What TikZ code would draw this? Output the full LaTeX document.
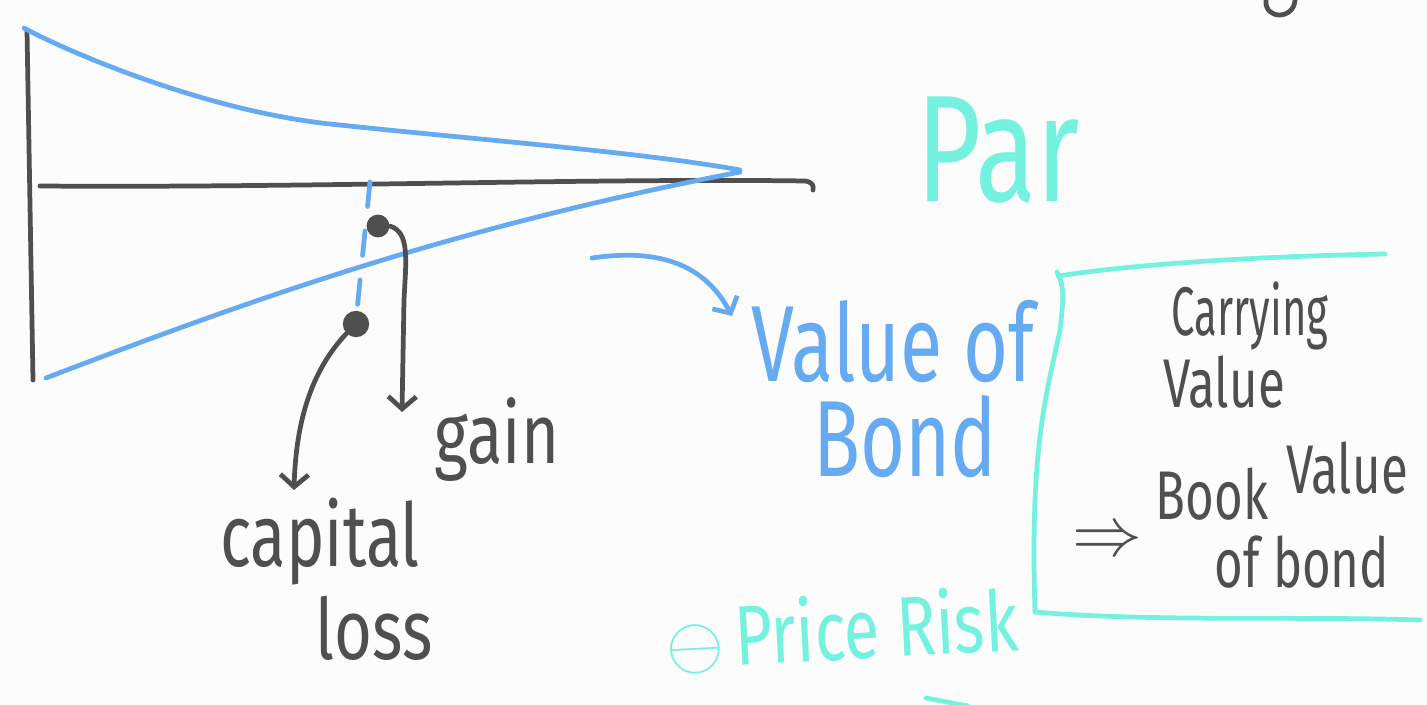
\documentclass[tikz,border=0pt]{standalone}
\usepackage{fontspec}
\setmainfont{Fira Sans}
\usetikzlibrary{arrows.meta}

\definecolor{inkgray}{HTML}{4F4F4F}
\definecolor{inkblue}{HTML}{66AAF2}
\definecolor{inkteal}{HTML}{74F2DF}
\definecolor{paper}{HTML}{FCFCFC}

\begin{document}
\begin{tikzpicture}[
    x=0.02cm, y=-0.02cm,
    ink/.style={line width=2.7pt, line cap=round, line join=round},
    grayink/.style={ink, draw=inkgray},
    blueink/.style={ink, draw=inkblue},
    tealink/.style={ink, draw=inkteal},
    barb/.style={-{Straight Barb[length=7pt, width=16pt, line width=2.7pt]}},
    hand/.style={inner sep=0pt, font=\fontsize{37}{40}\selectfont},
    small/.style={inner sep=0pt, font=\fontsize{28}{30}\selectfont},
    big/.style={inner sep=0pt, font=\fontsize{44}{50}\selectfont}
]

% ── Page ────────────────────────────────────────────────────
\fill[paper] (0,0) rectangle (1427,705);
\useasboundingbox (0,0) rectangle (1427,705);

% ── Axes ────────────────────────────────────────────────────
\draw[grayink] (27,30) -- (33,380);
\draw[grayink] (40,186) .. controls (300,188) and (600,178) .. (805,181)
    .. controls (812,182) and (814,185) .. (813,190);

% ── Bond value cone ─────────────────────────────────────────
\draw[blueink] (24,28) .. controls (60,48) and (200,110) .. (330,124)
    .. controls (480,140) and (640,152) .. (740,170);
\draw[blueink] (46,378) .. controls (250,300) and (450,228) .. (740,172);
\draw[blueink, dash pattern=on 14pt off 14pt] (370,182) -- (355,330);

% ── Points ──────────────────────────────────────────────────
\node[circle, fill=inkgray, minimum size=13pt, inner sep=0pt] (gaindot) at (378,226) {};
\node[circle, fill=inkgray, minimum size=15pt, inner sep=0pt] (lossdot) at (356,324) {};

% ── Labels ──────────────────────────────────────────────────
\node[hand, text=inkgray] (gainlbl) at (497,440) {\scalebox{1}[1.3]{gain}};
\node[hand, text=inkgray] (caplbl) at (320,542) {\scalebox{1}[1.35]{capital}};
\node[hand, text=inkgray] (losslbl) at (374,628) {\scalebox{1}[1.3]{loss}};
\node[inner sep=0pt, font=\fontsize{64}{70}\selectfont, text=inkteal] (parlbl) at (998,150) {\scalebox{1}[1.35]{Par}};
\node[big, text=inkblue] (valuelbl) at (893,342) {\scalebox{1}[1.4]{Value of}};
\node[big, text=inkblue] (bondlbl) at (905,437) {\scalebox{1}[1.4]{Bond}};
\node[hand, text=inkteal, rotate=3] (risklbl) at (842,630)
    {\scalebox{1.7}{$\ominus$}\,\scalebox{1}[1.3]{Price Risk}};

% ── Carrying value box ──────────────────────────────────────
\draw[tealink] (1058,276) .. controls (1150,262) and (1280,256) .. (1385,254);
\draw[tealink] (1057,272) .. controls (1064,285) and (1064,296) .. (1060,330)
    .. controls (1045,400) and (1030,450) .. (1035,612);
\draw[tealink] (1035,612) .. controls (1150,622) and (1300,616) .. (1420,620);
\node[small, text=inkgray] (carrylbl) at (1250,316) {\scalebox{0.85}[1.4]{Carrying}};
\node[small, text=inkgray] (cvaluelbl) at (1224,382) {\scalebox{1}[1.4]{Value}};
\node[small, text=inkgray] (implbl) at (1107,543) {\scalebox{1.6}{$\Rightarrow$}};
\node[small, text=inkgray] (booklbl) at (1212,494) {\scalebox{1}[1.4]{Book}};
\node[small, text=inkgray] (bvaluelbl) at (1347,468) {\scalebox{1}[1.4]{Value}};
\node[small, text=inkgray] (oflbl) at (1302,562) {\scalebox{1}[1.4]{of bond}};

% ── Pointers ────────────────────────────────────────────────
\coordinate (gaintip) at (402,412);
\coordinate (losstip) at (294,490);
\coordinate (valuetail) at (592,258);
\coordinate (valuetip) at (732,316);
\draw[grayink, barb] (gaindot.east) .. controls (410,232) and (406,260) .. (404,300)
    -- (gaintip);
\draw[grayink, barb] (lossdot.south west) .. controls (312,370) and (296,420) .. (losstip);
\draw[blueink, barb] (valuetail) .. controls (660,248) and (705,265) .. (valuetip);

% ── Stray strokes at the edges ──────────────────────────────
\draw[grayink] (1266,0) .. controls (1264,20) and (1294,20) .. (1295,0);
\draw[tealink] (926,698) -- (968,706);

\end{tikzpicture}
\end{document}
